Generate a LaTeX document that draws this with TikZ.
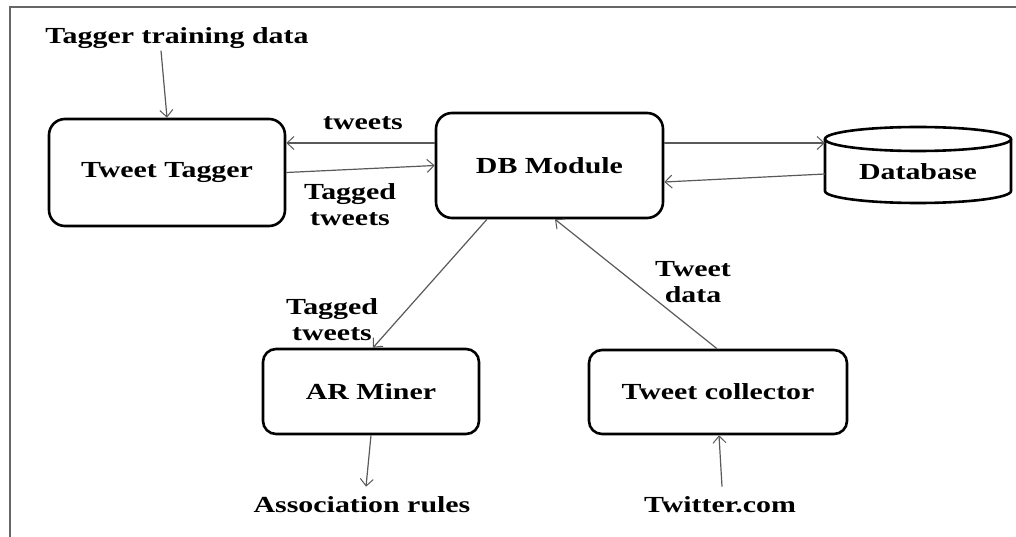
\documentclass[tikz,border=0pt]{standalone}
\usepackage{fontspec}
\setmainfont[FakeStretch=1.3]{Liberation Serif}
\usetikzlibrary{arrows.meta,calc}
\newcommand{\dgfont}{\fontsize{23}{26}\selectfont\bfseries}
\begin{document}
\begin{tikzpicture}[x=1pt,y=-1pt,
  box/.style={draw, line width=2.6pt, rounded corners=16pt, inner sep=0pt, font=\dgfont},
  conn/.style={draw=black!65, line width=1.2pt, -{Straight Barb[length=7pt,width=13pt,line width=1pt]}},
  lbl/.style={font=\dgfont, align=center, inner sep=2pt},
  cyl/.style={draw, line width=2.6pt}]
\useasboundingbox (0,0) rectangle (1016,537);
% frame
\draw[black!60, line width=2.8pt] (10,537) -- (10,7) -- (1016,7);
% boxes
\node[box, minimum width=236pt, minimum height=107pt] (tt) at (167,172.5) {Tweet Tagger};
\node[box, minimum width=227pt, minimum height=105pt] (dbm) at (549.5,165.5) {DB Module};
\node[box, rounded corners=13pt, minimum width=216pt, minimum height=85pt] (ar) at (371,391.5) {AR Miner};
\node[box, rounded corners=13pt, minimum width=258pt, minimum height=84pt] (tc) at (718,392) {Tweet collector};
% database cylinder
\draw[cyl] (825,139) -- (825,191) arc[start angle=180, end angle=360, x radius=93pt, y radius=12pt] -- (1011,139);
\draw[cyl] (918,139) ellipse [x radius=93pt, y radius=12pt];
\node[minimum width=186pt, inner sep=0pt, font=\dgfont] (dbase) at (918,172) {Database};
% labels
\node[lbl] (ttd) at (177,38) {Tagger training data};
\node[lbl] (ltw) at (363,123) {tweets};
\node[lbl] (ltt1) at (350,205) {Tagged\\tweets};
\node[lbl] (ltt2) at (332,320) {Tagged\\tweets};
\node[lbl] (ltd) at (693,282) {Tweet\\data};
\node[lbl] (assoc) at (362,505) {Association rules};
\node[lbl] (twc) at (720,505) {Twitter.com};
% connectors
\draw[conn] ([xshift=-16pt]ttd.south) -- (tt.north);
\draw[conn] ([yshift=22.5pt]dbm.west) -- ([yshift=29.5pt]tt.east);
\draw[conn] (tt.east) -- (dbm.west);
\draw[conn] ([yshift=22.5pt]dbm.east) -- ([yshift=29pt]dbase.west);
\draw[conn] ([yshift=-2pt]dbase.west) -- ([yshift=-16.5pt]dbm.east);
\draw[conn] ([xshift=-62.5pt]dbm.south) -- ([xshift=2pt]ar.north);
\draw[conn] ([xshift=-1pt]tc.north) -- ([xshift=5.5pt]dbm.south);
\draw[conn] (ar.south) -- ([xshift=4pt,yshift=8pt]assoc.north);
\draw[conn] ([xshift=2pt,yshift=8pt]twc.north) -- ([xshift=1pt]tc.south);
\end{tikzpicture}
\end{document}
